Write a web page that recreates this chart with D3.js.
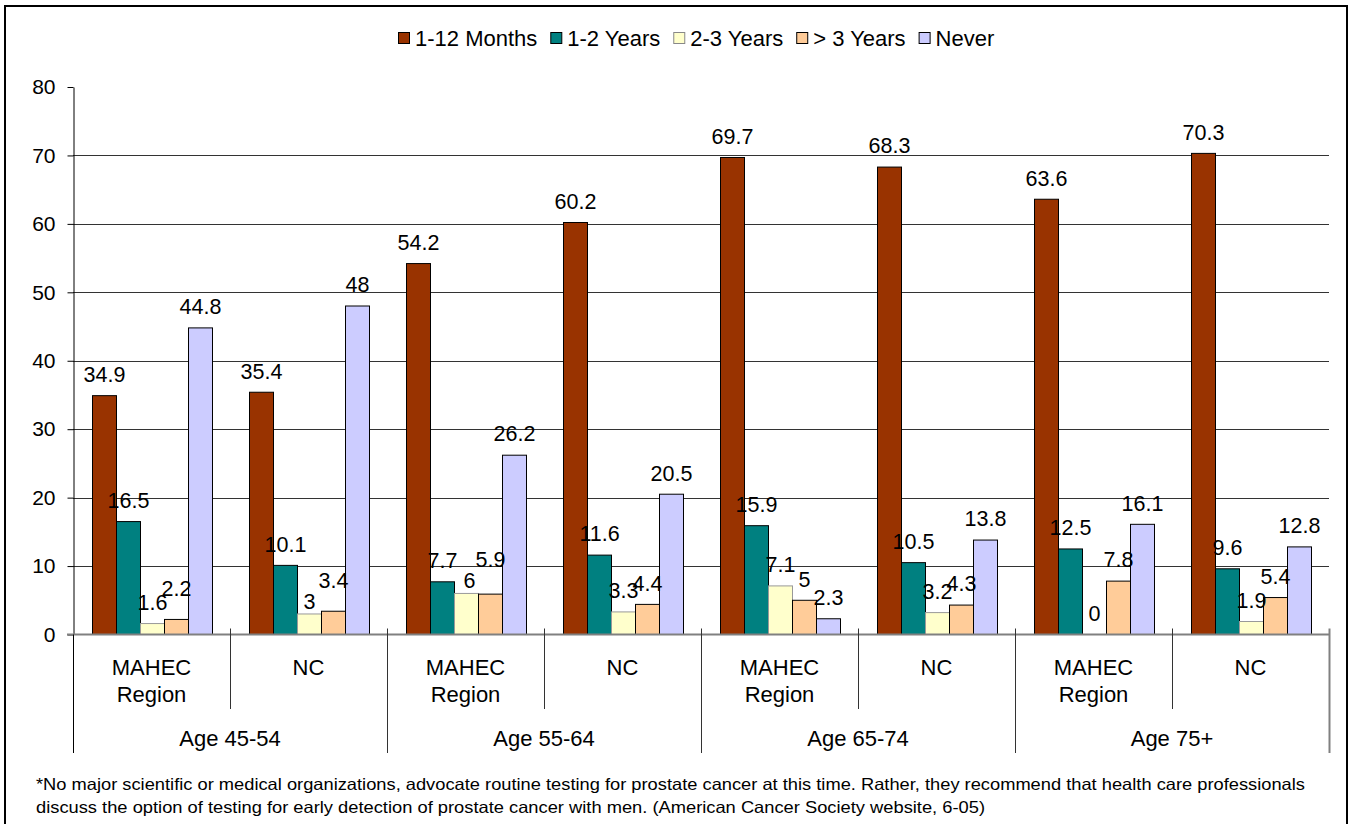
<!DOCTYPE html>
<html>
<head>
<meta charset="utf-8">
<script src="https://cdn.jsdelivr.net/npm/d3@7"></script>
<style>
  html, body { margin: 0; padding: 0; background: #ffffff; }
  svg { display: block; font-family: "Liberation Sans", Arial, sans-serif; }
</style>
</head>
<body>
<svg id="chart" width="1352" height="824"></svg>
<script>
// ---- Data ----
const ageGroups = ["Age 45-54", "Age 55-64", "Age 65-74", "Age 75+"];
const regions = ["MAHEC Region", "NC"];
const seriesNames = ["1-12 Months", "1-2 Years", "2-3 Years", "> 3 Years", "Never"];
const months1to12 = [34.9, 35.4, 54.2, 60.2, 69.7, 68.3, 63.6, 70.3];
const years1to2   = [16.5, 10.1, 7.7, 11.6, 15.9, 10.5, 12.5, 9.6];
const years2to3   = [1.6, 3, 6, 3.3, 7.1, 3.2, 0, 1.9];
const over3Years  = [2.2, 3.4, 5.9, 4.4, 5, 4.3, 7.8, 5.4];
const never       = [44.8, 48, 26.2, 20.5, 2.3, 13.8, 16.1, 12.8];
const yTicks = [0, 10, 20, 30, 40, 50, 60, 70, 80];
const footnote = [
  "*No major scientific or medical organizations, advocate routine testing for prostate cancer at this time. Rather, they recommend that health care professionals",
  "discuss the option of testing for early detection of prostate cancer with men. (American Cancer Society website, 6-05)"
];

// ---- Styles ----
const colors = ["#993300", "#008080", "#FFFFCC", "#FFCC99", "#CCCCFF"];
const strokes = ["#000", "#000", "#999", "#000", "#000"];
// manual label nudges (category index-series index): [dx, dy]
const labelNudge = { "0-3": [0, -10], "1-2": [0, 8.5], "1-3": [0, -10], "2-2": [3, 8], "2-3": [0, -13] };

const seriesValues = [months1to12, years1to2, years2to3, over3Years, never];
const categories = [];
ageGroups.forEach((a, ai) => regions.forEach((r, ri) => categories.push({ age: a, region: r, idx: ai * 2 + ri })));

const svg = d3.select("#chart");
const plotLeft = 73, plotRight = 1329, plotTop = 87, plotBottom = 634.5;

const y = d3.scaleLinear().domain([0, 80]).range([plotBottom, plotTop]);
const x0 = d3.scaleBand().domain(d3.range(categories.length)).range([plotLeft, plotRight]);
const x1 = d3.scaleBand().domain(d3.range(seriesNames.length)).range([19.5, 139.5]);

// Outer border
svg.append("rect").attr("x", 5).attr("y", 6).attr("width", 1342).attr("height", 830)
  .attr("fill", "none").attr("stroke", "#000").attr("stroke-width", 2);

// Gridlines (no line at top value)
svg.append("g").selectAll("line").data(yTicks.filter(t => t > 0 && t < 80)).join("line")
  .attr("x1", plotLeft).attr("x2", plotRight)
  .attr("y1", d => Math.round(y(d)) + 0.5).attr("y2", d => Math.round(y(d)) + 0.5)
  .attr("stroke", "#333").attr("stroke-width", 1);

// Y axis
const yAxis = d3.axisLeft(y).tickValues(yTicks).tickSize(6).tickPadding(12).tickSizeOuter(0);
const gy = svg.append("g").attr("transform", `translate(${plotLeft + 0.5},0)`).call(yAxis);
gy.select(".domain").attr("stroke", "#000");
gy.selectAll(".tick line").attr("stroke", "#000");
gy.selectAll(".tick text").attr("font-size", 21).attr("fill", "#000")
  .attr("font-family", "Liberation Sans, Arial, sans-serif");

// Bars
const groups = svg.append("g").selectAll("g").data(categories).join("g")
  .attr("transform", d => `translate(${x0(d.idx)},0)`);
groups.selectAll("rect").data(c => seriesValues.map((s, si) => ({ c: c.idx, si, v: s[c.idx] }))).join("rect")
  .attr("x", d => x1(d.si)).attr("width", x1.bandwidth())
  .attr("y", d => y(d.v)).attr("height", d => y(0) - y(d.v))
  .attr("fill", d => colors[d.si]).attr("stroke", d => strokes[d.si]).attr("stroke-width", 1)
  .attr("display", d => d.v > 0 ? null : "none");

// Baseline
svg.append("line").attr("x1", plotLeft - 6).attr("x2", plotRight).attr("y1", y(0)).attr("y2", y(0))
  .attr("stroke", "#808080").attr("stroke-width", 2);

// Data labels
groups.selectAll("text.val").data(c => seriesValues.map((s, si) => ({ c: c.idx, si, v: s[c.idx] }))).join("text")
  .attr("class", "val")
  .attr("x", d => x1(d.si) + x1.bandwidth() / 2 + ((labelNudge[d.c + "-" + d.si] || [0, 0])[0]))
  .attr("y", d => y(d.v) - 13.7 + ((labelNudge[d.c + "-" + d.si] || [0, 0])[1]))
  .attr("text-anchor", "middle").attr("font-size", 21.5).attr("fill", "#000")
  .text(d => d3.format("")(d.v));

// Category separators
const sep = svg.append("g");
d3.range(categories.length + 1).forEach(i => {
  const xx = i < categories.length ? x0(i) : plotRight;
  const outer = i % 2 === 0;
  if (i === 0) {
    sep.append("line").attr("x1", plotLeft + 0.5).attr("x2", plotLeft + 0.5).attr("y1", plotBottom).attr("y2", 753)
      .attr("stroke", "#000");
  } else {
    sep.append("line").attr("x1", Math.round(xx) + 0.5).attr("x2", Math.round(xx) + 0.5)
      .attr("y1", plotBottom - 6).attr("y2", outer ? 753 : 709)
      .attr("stroke", i === categories.length ? "#808080" : "#333").attr("stroke-width", i === categories.length ? 2 : 1);
  }
});

// Category labels (region)
const catG = svg.append("g");
categories.forEach(c => {
  const cx = x0(c.idx) + x0.bandwidth() / 2;
  const words = c.region.split(" ");
  const t = catG.append("text").attr("x", cx).attr("y", 675).attr("text-anchor", "middle")
    .attr("font-size", 22).attr("fill", "#000");
  words.forEach((w, wi) => t.append("tspan").attr("x", cx).attr("dy", wi === 0 ? 0 : 27).text(w));
});
// Age group labels
ageGroups.forEach((a, ai) => {
  const cx = x0(ai * 2) + x0.bandwidth();
  catG.append("text").attr("x", cx).attr("y", 746).attr("text-anchor", "middle")
    .attr("font-size", 22).attr("fill", "#000").text(a);
});

// Legend
const leg = svg.append("g");
let lx = 0;
seriesNames.forEach((name, i) => {
  const g = leg.append("g").attr("transform", `translate(${lx},0)`);
  g.append("rect").attr("x", 0.5).attr("y", 32.5).attr("width", 11).attr("height", 11)
    .attr("fill", colors[i]).attr("stroke", strokes[i] === "#999" ? "#888" : "#000");
  const t = g.append("text").attr("x", 17).attr("y", 46).attr("font-size", 22).attr("fill", "#000").text(name);
  lx += 17 + t.node().getComputedTextLength() + 13;
});
const legW = lx - 13;
leg.attr("transform", `translate(${Math.round(696 - legW / 2)},0)`);

// Footnote
const fw = [1269, 949];
footnote.forEach((line, i) => {
  svg.append("text").attr("x", 36).attr("y", 790 + i * 23).attr("font-size", 16.5).attr("fill", "#000")
    .attr("textLength", fw[i]).attr("lengthAdjust", "spacingAndGlyphs").text(line);
});
</script>
</body>
</html>
